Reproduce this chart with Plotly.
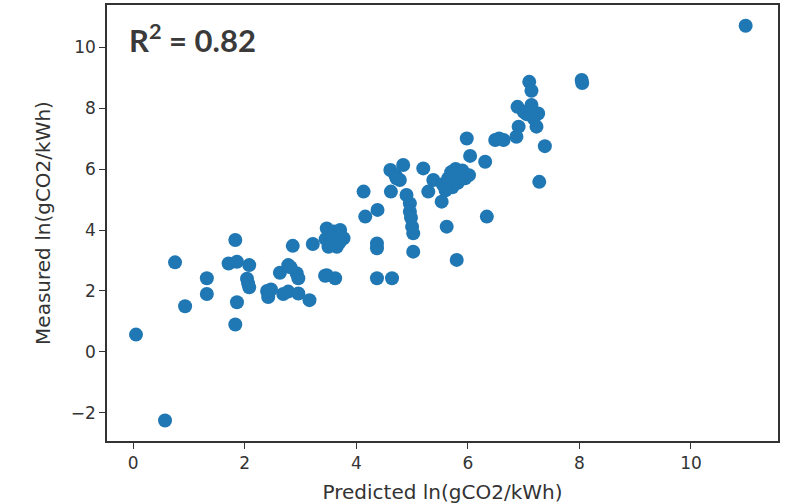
import plotly.graph_objects as go

predicted = [0.05, 0.57, 0.75, 0.93, 1.32, 1.32, 1.83, 1.71, 1.86, 2.08, 2.04, 2.06, 2.08, 1.86, 1.83,
             2.40, 2.42, 2.47, 2.63, 2.78, 2.82, 2.93, 2.96, 2.69, 2.78, 2.96, 3.16, 2.86, 3.22,
             3.47, 3.60, 3.71, 3.77, 3.50, 3.65, 3.56, 3.45, 3.55, 3.70, 3.47, 3.62, 3.44,
             4.13, 4.16, 4.38, 4.37, 4.37, 4.37, 4.64, 4.61, 4.84, 4.78, 4.70, 4.62, 4.90, 4.96,
             4.96, 4.98, 5.00, 5.02, 5.02, 5.20, 5.38, 5.29, 5.53, 5.62, 5.80, 5.55, 5.65, 5.70,
             5.78, 5.85, 5.90, 5.95, 6.02, 5.72, 5.82, 5.60, 5.98, 6.04, 6.31, 6.49, 6.64, 6.56,
             6.34, 7.10, 7.14, 6.89, 7.00, 7.14, 7.26, 7.18, 7.23, 6.91, 6.87, 7.38, 7.28, 8.04,
             8.05, 10.98, 7.05, 4.72]
measured = [0.57, -2.25, 2.94, 1.50, 2.42, 1.90, 3.67, 2.90, 2.96, 2.85, 2.40, 2.25, 2.12, 1.63, 0.90,
            2.00, 1.80, 2.05, 2.60, 2.85, 2.78, 2.58, 2.42, 1.90, 1.98, 1.92, 1.70, 3.48, 3.54,
            4.05, 3.95, 4.00, 3.73, 3.45, 3.45, 3.78, 3.70, 3.55, 3.60, 2.52, 2.42, 2.50,
            5.26, 4.44, 4.66, 3.56, 3.40, 2.42, 2.42, 5.97, 6.13, 5.64, 5.80, 5.26, 5.15, 4.87,
            4.60, 4.40, 4.11, 3.89, 3.29, 6.02, 5.64, 5.26, 4.93, 4.11, 3.02, 5.50, 5.70, 5.90,
            6.00, 5.80, 5.95, 5.70, 5.80, 5.40, 5.55, 5.30, 7.00, 6.43, 6.24, 6.95, 6.95, 7.00,
            4.44, 8.86, 8.57, 8.04, 7.88, 8.10, 7.82, 7.66, 7.39, 7.39, 7.06, 6.75, 5.58, 8.92,
            8.82, 10.70, 7.80, 5.70]

x_ticks = [0, 2, 4, 6, 8, 10]
y_ticks = [-2, 0, 2, 4, 6, 8, 10]
x_title = "Predicted ln(gCO2/kWh)"
y_title = "Measured ln(gCO2/kWh)"
r2_text = "R<sup>2</sup> = 0.82"

fig = go.Figure(go.Scatter(
    x=predicted, y=measured, mode="markers",
    marker=dict(color="#1f77b4", size=14, line=dict(width=0)),
    showlegend=False,
))

axis_common = dict(
    showgrid=False, zeroline=False, showline=True, mirror=True,
    linecolor="#333333", linewidth=1.5, automargin=False,
    ticks="outside", ticklen=6, tickwidth=1.2, tickcolor="#333333",
    tickfont=dict(family="DejaVu Sans", size=17, color="#333333"),
)

fig.update_xaxes(range=[-0.47, 11.56], tickvals=x_ticks, ticktext=[str(v) for v in x_ticks],
                 title=dict(text=x_title, font=dict(family="DejaVu Sans", size=20, color="#333333")),
                 **axis_common)
fig.update_yaxes(range=[-2.92, 11.38], tickvals=y_ticks,
                 ticktext=[("\u2212" + str(-v)) if v < 0 else str(v) for v in y_ticks],
                 title=dict(text=y_title, font=dict(family="DejaVu Sans", size=20, color="#333333")),
                 **axis_common)

fig.add_annotation(
    text=r2_text, xref="paper", yref="paper", x=0.03, y=0.924,
    xanchor="left", yanchor="middle", showarrow=False,
    font=dict(family="Lato", size=31, color="#3a3a3a", weight="bold"),
)

fig.update_layout(
    width=785, height=504,
    margin=dict(l=107, r=7, t=5, b=63, autoexpand=False),
    plot_bgcolor="white", paper_bgcolor="white",
)

fig.write_html("out.html", config={"displayModeBar": False},
               post_script="document.body.style.margin='0';document.body.style.overflow='hidden';")
